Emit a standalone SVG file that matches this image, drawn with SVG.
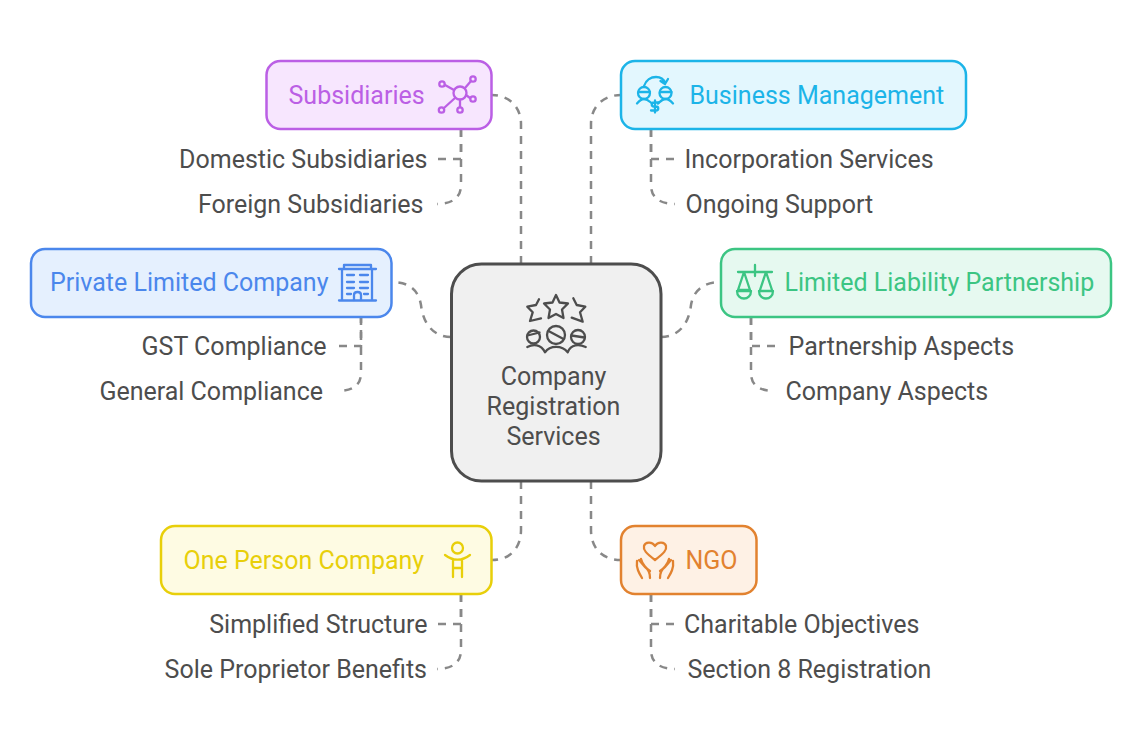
<svg xmlns="http://www.w3.org/2000/svg" width="1143" height="745" viewBox="0 0 1143 745">
<style>
text{font-family:Roboto,"Liberation Sans",sans-serif;font-size:25px}
.leaf{fill:#4d4d4d}
.c{fill:none;stroke:#888;stroke-width:2.5;stroke-dasharray:8 7}
.box{stroke-width:2.5}
.i{fill:none;stroke-width:2.3;stroke-linecap:round;stroke-linejoin:round}
.pu{stroke:#bb5fe5}.bl{stroke:#1cb4e8}.nv{stroke:#4b87ec}.gr{stroke:#3cc583}.ye{stroke:#e8cf0a}.or{stroke:#e2822f}.dk{stroke:#4d4d4d}
</style>
<rect width="1143" height="745" fill="#fff"/>
<g id="connectors">
<path class="c" d="M521 264V124C521 106 508 95 492 95"/>
<path class="c" d="M591 264V124C591 106 604 95 621 95"/>
<path class="c" d="M451 337C433 337 423 323 421 305C419 293 412 282 392 282"/>
<path class="c" d="M661 337C679 337 689 323 691 305C693 293 701 282 721 282"/>
<path class="c" d="M521 481V530C521 548 510 560 492 560"/>
<path class="c" d="M591 481V530C591 548 602 560 621 560"/>
<path class="c" d="M438 159H461V129"/>
<path class="c" d="M461 129V185C461 197 453 204 437 204"/>
<path class="c" d="M674 159H651V129"/>
<path class="c" d="M651 129V185C651 197 659 204 675 204"/>
<path class="c" d="M339 346H361V317"/>
<path class="c" d="M361 317V373C361 385 353 391 337 391"/>
<path class="c" d="M775 346H751V317"/>
<path class="c" d="M751 317V373C751 385 759 391 775 391"/>
<path class="c" d="M438 624H461V594"/>
<path class="c" d="M461 594V650C461 662 453 669 437 669"/>
<path class="c" d="M674 624H651V594"/>
<path class="c" d="M651 594V650C651 662 659 669 675 669"/>
</g>
<g id="center">
<rect x="451.500" y="264" width="209.500" height="217" rx="30" fill="#f0f0f0" stroke="#4d4d4d" stroke-width="3"/>
<g class="i dk">
<path d="M556 295L559.500 302.500L568 303.500L562 309.500L563.500 318L556 314L548.500 318L550 309.500L544 303.500L552.500 302.500Z"/>
<path d="M539 299.300L536 305L527.300 306.700L532.700 312.300L530 321L541 318.300"/>
<path d="M573.300 298.300L576.700 305L585.300 306.700L580 312.300L582.700 321.700L571.700 317.700"/>
<circle cx="533.500" cy="337" r="6.500"/><path d="M527.500 335.500L539.500 332.500"/>
<circle cx="556" cy="335" r="9"/><path d="M548.500 331L563.500 339"/>
<circle cx="578" cy="337" r="7"/><path d="M571.500 335.500L584.500 337.500"/>
<path d="M527.300 347C533 344 541 344 545 352.300C550 345 562 345 567.700 352.300C571 344 579 344 585.700 347"/>
</g>
<text class="leaf" x="553.500" y="385" text-anchor="middle">Company</text>
<text class="leaf" x="553.500" y="415" text-anchor="middle">Registration</text>
<text class="leaf" x="553.500" y="445" text-anchor="middle">Services</text>
</g>
<g id="subsidiaries">
<rect class="box pu" x="266.500" y="61" width="225" height="68" rx="14" fill="#f7e6fe"/>
<text x="288.500" y="104" fill="#bb5fe5">Subsidiaries</text>
<g class="i pu">
<circle cx="460" cy="93" r="6.500"/><circle cx="442" cy="84" r="2.700"/><circle cx="473" cy="79" r="2.700"/><circle cx="473" cy="99" r="2.700"/><circle cx="441.500" cy="110" r="2.700"/><circle cx="460" cy="110" r="2.700"/>
<path d="M445 85L454 90M465 88L471 81M466 95L470 98M444 108L455 98M460 100V107"/>
</g>
<text class="leaf" x="427.500" y="168" text-anchor="end">Domestic Subsidiaries</text>
<text class="leaf" x="423.500" y="213" text-anchor="end">Foreign Subsidiaries</text>
</g>
<g id="business-management">
<rect class="box bl" x="621" y="61" width="345" height="68" rx="14" fill="#e3f7fe"/>
<text x="689.500" y="104" fill="#1cb4e8">Business Management</text>
<g class="i bl">
<circle cx="644" cy="93" r="6"/><circle cx="665.500" cy="93" r="6"/>
<path d="M638.500 92H650M660 92H671.500M637 103.500C640 100 642 99 644 99C648 99 650 102 652 103.500M673 103.500C670 100 668 99 665.500 99C662 99 660 102 658 103.500M644 86C646 80 651 77 656 77C661 77 664 80 665 83M660.500 81L665 84L668 79"/>
<path d="M659 102.500H654C651 102.500 651 106.500 654 106.500H656C659 106.500 659 110.500 656 110.500H651M655 100.500V112.500"/>
</g>
<text class="leaf" x="684.500" y="168">Incorporation Services</text>
<text class="leaf" x="685.500" y="213">Ongoing Support</text>
</g>
<g id="private-limited-company">
<rect class="box nv" x="31" y="249" width="360.500" height="68" rx="14" fill="#e5f0fe"/>
<text x="50" y="291" fill="#4b87ec">Private Limited Company</text>
<g class="i nv">
<path d="M339 269H376M339 300.500H376M342 269V300.500M372 269V300.500M344 269V265H371V269"/>
<path d="M347 275H354M360 275H368M347 282H354M360 282H368M347 288H354M360 288H368M347 294H351M364 294H368M354 300V295C354 291 361 291 361 295V300"/>
</g>
<text class="leaf" x="326.500" y="355" text-anchor="end">GST Compliance</text>
<text class="leaf" x="323" y="400" text-anchor="end">General Compliance</text>
</g>
<g id="limited-liability-partnership">
<rect class="box gr" x="721" y="249" width="390" height="68" rx="14" fill="#e6f9f0"/>
<text x="784.500" y="291" fill="#3cc583">Limited Liability Partnership</text>
<g class="i gr">
<path d="M738 272H772M755 265V276M744 272L738 290M744 272L750 290M766 272L760 290M766 272L772 290M738 290H750M737 291C737 301 751 301 751 291ZM759 291C759 301 773 301 773 291Z"/>
</g>
<text class="leaf" x="788.500" y="355">Partnership Aspects</text>
<text class="leaf" x="785.500" y="400">Company Aspects</text>
</g>
<g id="one-person-company">
<rect class="box ye" x="161" y="526" width="330.500" height="68" rx="14" fill="#fefbe3"/>
<text x="183.500" y="569" fill="#e8cf0a">One Person Company</text>
<g class="i ye">
<circle cx="457.500" cy="548" r="5.500"/>
<path d="M445 555C453 561 462 561 470 555M453 559V577M462 559V577M453 568H462"/>
</g>
<text class="leaf" x="427.500" y="633" text-anchor="end">Simplified Structure</text>
<text class="leaf" x="427" y="678" text-anchor="end">Sole Proprietor Benefits</text>
</g>
<g id="ngo">
<rect class="box or" x="621" y="526" width="135.500" height="68" rx="14" fill="#fef1e5"/>
<text x="685.500" y="569" fill="#e2822f">NGO</text>
<g class="i or">
<path d="M655 560C646 553 643 550 644 546C645 542 652 541 655 546C658 541 665 542 666 546C667 550 664 553 655 560Z"/>
<path d="M650 578C650 572 648 569 645 567L639 560M637 561C636 568 639 573 642 578M641 559C642 564 647 569 650 571"/>
<path d="M660 578C660 572 662 569 665 567L671 560M673 561C674 568 671 573 668 578M669 559C668 564 663 569 660 571"/>
</g>
<text class="leaf" x="684" y="633">Charitable Objectives</text>
<text class="leaf" x="687.500" y="678">Section 8 Registration</text>
</g>
</svg>
